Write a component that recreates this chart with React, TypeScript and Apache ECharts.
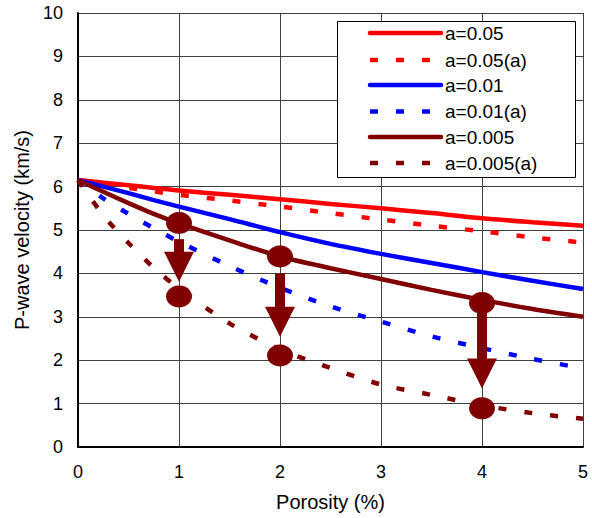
import React, { useEffect, useRef } from "react";
import * as echarts from "echarts";

const porosity = [0, 0.25, 0.5, 0.75, 1, 1.5, 2, 2.5, 3, 3.5, 4, 4.5, 5];
const a005 = [6.15, 6.09, 6.03, 5.97, 5.91, 5.81, 5.71, 5.6, 5.5, 5.39, 5.27, 5.18, 5.1];
const a005a = [6.15, 6.06, 5.97, 5.89, 5.81, 5.68, 5.54, 5.39, 5.24, 5.1, 4.97, 4.83, 4.71];
const a001 = [6.15, 6.0, 5.85, 5.69, 5.54, 5.25, 4.95, 4.68, 4.45, 4.24, 4.03, 3.83, 3.64];
const a001a = [6.15, 5.73, 5.37, 5.04, 4.73, 4.17, 3.67, 3.24, 2.89, 2.55, 2.28, 2.03, 1.81];
const a0005 = [6.15, 5.88, 5.62, 5.37, 5.15, 4.76, 4.39, 4.12, 3.87, 3.62, 3.39, 3.18, 3.0];
const a0005a = [6.15, 5.34, 4.7, 4.13, 3.65, 2.85, 2.25, 1.82, 1.44, 1.2, 0.96, 0.78, 0.65];

const seriesNames = ["a=0.05", "a=0.05(a)", "a=0.01", "a=0.01(a)", "a=0.005", "a=0.005(a)"];
const seriesValues = [a005, a005a, a001, a001a, a0005, a0005a];
const seriesColors = ["#ff0000", "#ff0000", "#0000ff", "#0000ff", "#800000", "#800000"];
const seriesDashed = [false, true, false, true, false, true];

// markers: [porosity, velocity]
const markerPoints = [
  [1, 5.16],
  [1, 3.47],
  [2, 4.39],
  [2, 2.11],
  [4, 3.32],
  [4, 0.89],
];
// arrows: [porosity, top velocity, tip velocity]
const arrows = [
  [1, 4.79, 3.81],
  [2, 4.0, 2.54],
  [4, 3.12, 1.35],
];

const xTicks = [0, 1, 2, 3, 4, 5];
const yTicks = [0, 1, 2, 3, 4, 5, 6, 7, 8, 9, 10];

const FONT = "'Liberation Sans', Arial, sans-serif";
const DARK = "#800000";
const DASH = [8, 18];
const LINE_W = 4.5;

export default function App() {
  const ref = useRef<HTMLDivElement>(null);
  useEffect(() => {
    if (!ref.current) return;
    const chart = echarts.init(ref.current, null, { renderer: "svg" });
    const lineSeries = seriesNames.map((name, i) => ({
      name,
      type: "line",
      smooth: 0.3,
      symbol: "none",
      z: 3,
      data: porosity.map((x, j) => [x, seriesValues[i][j]]),
      lineStyle: {
        color: seriesColors[i],
        width: LINE_W,
        type: seriesDashed[i] ? DASH : "solid",
        cap: "butt",
      },
      itemStyle: { color: seriesColors[i] },
    }));

    // legend drawn as graphic elements
    const legendLeft = 337;
    const legendTop = 21;
    const rowY = [33, 60, 85, 111.5, 137, 163];
    const legendGraphics: any[] = [
      {
        type: "rect",
        z: 10,
        shape: { x: legendLeft + 0.5, y: legendTop + 0.5, width: 238, height: 156 },
        style: { fill: "#fff", stroke: "#000", lineWidth: 1 },
      },
    ];
    seriesNames.forEach((name, i) => {
      legendGraphics.push({
        type: "line",
        z: 11,
        shape: { x1: 370, y1: rowY[i], x2: 441, y2: rowY[i] },
        style: {
          stroke: seriesColors[i],
          lineWidth: LINE_W,
          lineDash: seriesDashed[i] ? DASH : null,
          lineCap: seriesDashed[i] ? "butt" : "round",
        },
      });
      legendGraphics.push({
        type: "text",
        z: 11,
        x: 445,
        y: rowY[i],
        style: {
          text: name,
          fill: "#000",
          font: `19px ${FONT}`,
          verticalAlign: "middle",
          align: "left",
        },
      });
    });

    chart.setOption({
      animation: false,
      backgroundColor: "#ffffff",
      textStyle: { fontFamily: FONT },
      grid: { left: 78, right: 9, top: 13, bottom: 71, containLabel: false },
      graphic: legendGraphics,
      xAxis: {
        type: "value",
        min: 0,
        max: 5,
        interval: 1,
        name: "Porosity (%)",
        nameLocation: "middle",
        nameGap: 45,
        nameTextStyle: { fontSize: 20, color: "#000", fontFamily: FONT },
        axisLine: { show: true, lineStyle: { color: "#000", width: 2 } },
        axisTick: { show: false },
        axisLabel: {
          fontSize: 18,
          color: "#000",
          margin: 16,
          fontFamily: FONT,
          formatter: (v: number) => (xTicks.includes(v) ? String(v) : ""),
        },
        splitLine: { show: true, lineStyle: { color: "#404040", width: 1 } },
      },
      yAxis: {
        type: "value",
        min: 0,
        max: 10,
        interval: 1,
        name: "P-wave velocity (km/s)",
        nameLocation: "middle",
        nameGap: 43,
        nameTextStyle: { fontSize: 20, color: "#000", fontFamily: FONT },
        axisLine: { show: true, lineStyle: { color: "#000", width: 2 } },
        axisTick: { show: false },
        axisLabel: {
          fontSize: 18,
          color: "#000",
          margin: 15,
          fontFamily: FONT,
          formatter: (v: number) => (yTicks.includes(v) ? String(v) : ""),
        },
        splitLine: { show: true, lineStyle: { color: "#404040", width: 1 } },
      },
      series: [
        ...lineSeries,
        {
          name: "arrows",
          type: "custom",
          z: 4,
          data: arrows,
          renderItem: (params: any, api: any) => {
            const top = api.coord([api.value(0), api.value(1)]);
            const tip = api.coord([api.value(0), api.value(2)]);
            const headH = 30;
            const headW = 30;
            const shaftW = 10;
            return {
              type: "group",
              children: [
                {
                  type: "rect",
                  shape: { x: top[0] - shaftW / 2, y: top[1], width: shaftW, height: tip[1] - headH - top[1] + 1 },
                  style: { fill: DARK },
                },
                {
                  type: "polygon",
                  shape: {
                    points: [
                      [tip[0] - headW / 2, tip[1] - headH],
                      [tip[0] + headW / 2, tip[1] - headH],
                      [tip[0], tip[1]],
                    ],
                  },
                  style: { fill: DARK },
                },
              ],
            };
          },
        },
        {
          name: "markers",
          type: "scatter",
          z: 5,
          symbol: "circle",
          symbolSize: [26, 22],
          itemStyle: { color: DARK, opacity: 1 },
          data: markerPoints,
        },
      ],
    });
    return () => chart.dispose();
  }, []);
  return (
    <div
      ref={ref}
      style={{ position: "fixed", left: 0, top: 0, width: 592, height: 518, background: "#fff" }}
    />
  );
}
